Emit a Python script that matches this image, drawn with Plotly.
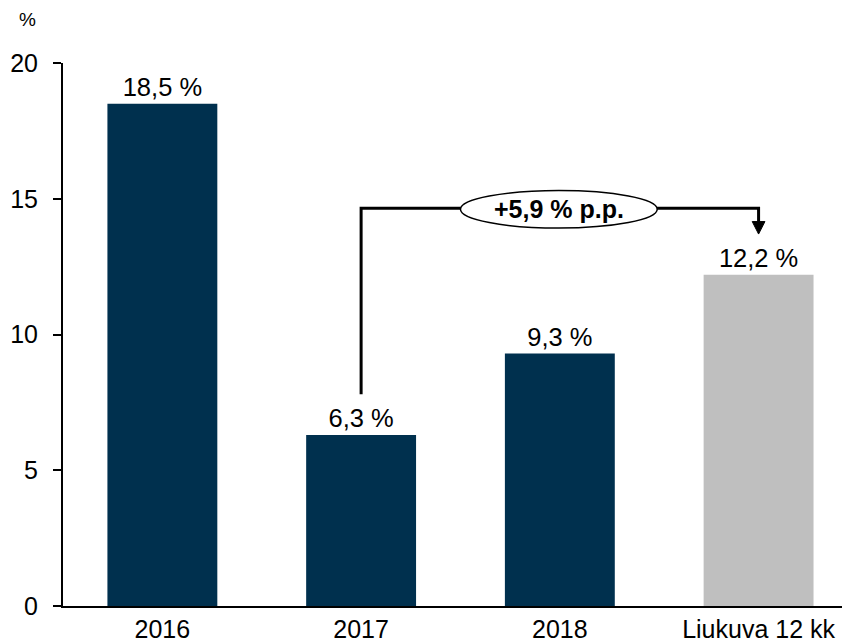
import plotly.graph_objects as go

categories = ["2016", "2017", "2018", "Liukuva 12 kk"]
values = [18.5, 6.3, 9.3, 12.2]
labels = ["18,5 %", "6,3 %", "9,3 %", "12,2 %"]
colors = ["#00304E", "#00304E", "#00304E", "#BFBFBF"]
y_ticks = [0, 5, 10, 15, 20]
change_text = "+5,9 % p.p."
unit_text = "%"

FONT = "Arial, 'Liberation Sans', Helvetica, sans-serif"

fig = go.Figure()
fig.add_trace(go.Bar(
    x=list(range(len(categories))), y=values,
    marker=dict(color=colors, line=dict(width=0)),
    text=labels, textposition="outside", cliponaxis=False,
    textfont=dict(size=25.5, color="black", family=FONT),
    width=0.553,
))

# bracket annotation from 2017 to Liukuva
x_from, x_to = 1, 3
y_start = 7.8
y_top = 14.65
y_tip = 13.7
head_h = 0.46
head_hw = 0.032
fig.add_shape(type="path",
              path=f"M {x_from} {y_start} L {x_from} {y_top} L {x_to} {y_top} L {x_to} {y_tip + head_h}",
              line=dict(color="black", width=3), layer="above")
fig.add_shape(type="path",
              path=f"M {x_to - head_hw} {y_tip + head_h} L {x_to + head_hw} {y_tip + head_h} L {x_to} {y_tip} Z",
              fillcolor="black", line=dict(color="black", width=1), layer="above")
fig.add_shape(type="circle", x0=1.5, x1=2.49, y0=13.92, y1=15.3,
              fillcolor="white", line=dict(color="black", width=1.5), layer="above")
fig.add_annotation(x=1.995, y=14.63, text=f"<b>{change_text}</b>", showarrow=False,
                   font=dict(size=25, color="black", family=FONT))

fig.add_annotation(xref="paper", yref="paper", x=-0.045, y=1.08, text=unit_text,
                   showarrow=False, xanchor="center", yanchor="middle",
                   font=dict(size=19, color="black", family=FONT))

# page body adds an 8px offset; margins compensate so the plot sits where the reference has it
fig.update_layout(
    width=850, height=642,
    margin=dict(l=55, r=8, t=55, b=44),
    paper_bgcolor="white", plot_bgcolor="white",
    showlegend=False,
    font=dict(family=FONT, size=25, color="black"),
    xaxis=dict(range=[-0.5, 3.46], tickmode="array", tickvals=list(range(len(categories))),
               ticktext=categories, showgrid=False, zeroline=False, automargin=False,
               showline=True, linecolor="black", linewidth=2, ticks="",
               tickfont=dict(size=25, family=FONT)),
    yaxis=dict(range=[0, 20], tickvals=y_ticks, showgrid=False, zeroline=False, automargin=False,
               showline=True, linecolor="black", linewidth=2,
               ticks="outside", ticklen=8, tickwidth=1.5, tickcolor="black",
               tickfont=dict(size=25, family=FONT), ticklabelstandoff=10),
)

fig.write_html("out.html")
